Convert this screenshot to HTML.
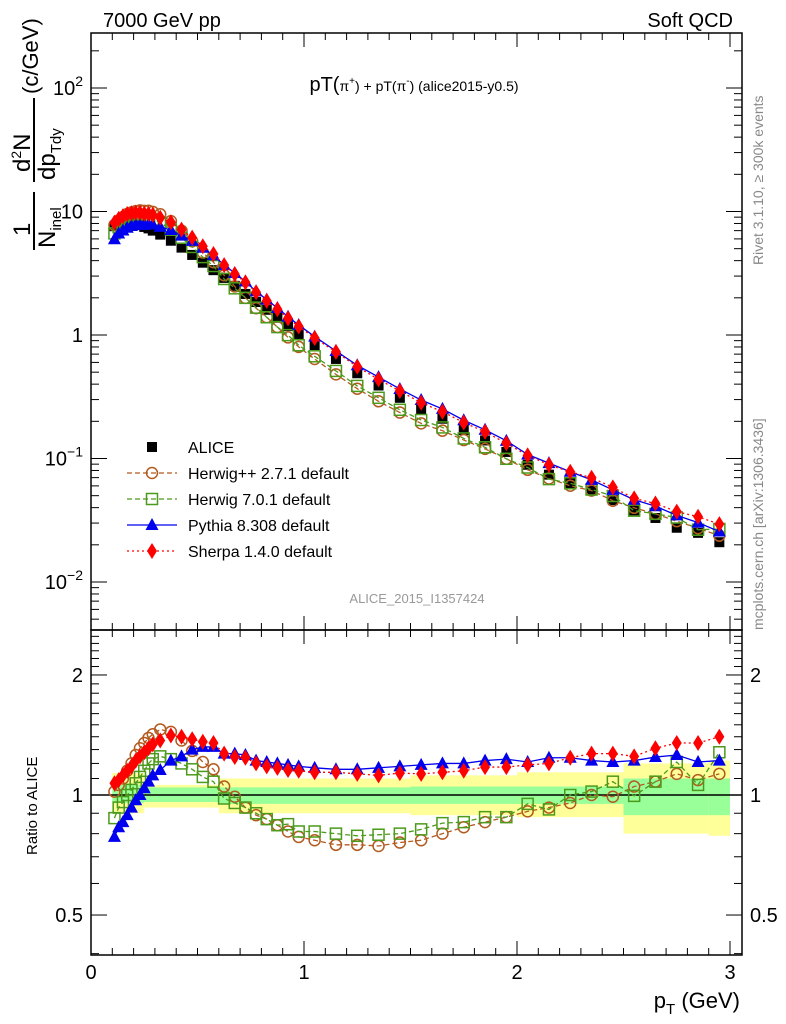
<!DOCTYPE html>
<html><head><meta charset="utf-8"><style>
html,body{margin:0;padding:0;background:#fff;}
svg{display:block;font-family:"Liberation Sans",sans-serif;}
</style></head><body>
<svg id="c" width="786" height="1024" viewBox="0 0 786 1024">
<g id="bands"></g>
<g id="axes"></g>
<g id="series"></g>
<text x="103" y="27" font-size="20">7000 GeV pp</text>
<text x="733" y="27" font-size="20" text-anchor="end">Soft QCD</text>
<text x="414" y="91" font-size="20" text-anchor="middle">pT(<tspan font-size="14">π<tspan dy="-7" font-size="10">+</tspan></tspan><tspan dy="7" font-size="14">) + pT(π<tspan dy="-7" font-size="10">-</tspan></tspan><tspan dy="7" font-size="14">) (alice2015-y0.5)</tspan></text>
<text x="417" y="603" font-size="13" fill="#999" text-anchor="middle">ALICE_2015_I1357424</text>
<text transform="translate(763,265) rotate(-90)" font-size="14" fill="#888">Rivet 3.1.10, ≥ 300k events</text>
<text transform="translate(763,630) rotate(-90)" font-size="14" fill="#888">mcplots.cern.ch [arXiv:1306.3436]</text>
<g transform="translate(44,250) rotate(-90)">
  <text x="14" y="-14" font-size="24">1</text>
  <line x1="0" y1="-10" x2="58" y2="-10" stroke="#000" stroke-width="2"/>
  <text x="2" y="11" font-size="24">N<tspan font-size="15" dy="6">inel</tspan></text>
  <text x="78" y="-14" font-size="24">d<tspan font-size="14" dy="-9">2</tspan><tspan dy="9">N</tspan></text>
  <line x1="68" y1="-10" x2="152" y2="-10" stroke="#000" stroke-width="2"/>
  <text x="70" y="11" font-size="24">dp<tspan font-size="15" dy="6">Tdy</tspan></text>
  <text x="156" y="-6" font-size="22">(c/GeV)</text>
</g>
<text transform="translate(37,855) rotate(-90)" font-size="15">Ratio to ALICE</text>
<text x="740" y="1008" font-size="22" text-anchor="end">p<tspan font-size="15" dy="6">T</tspan><tspan dy="-6"> (GeV)</tspan></text>
<g id="legend"></g>
</svg>
<script>
const pT=[0.11,0.13,0.15,0.17,0.19,0.21,0.23,0.25,0.27,0.29,0.325,0.375,0.425,0.475,0.525,0.575,0.625,0.675,0.725,0.775,0.825,0.875,0.925,0.975,1.05,1.15,1.25,1.35,1.45,1.55,1.65,1.75,1.85,1.95,2.05,2.15,2.25,2.35,2.45,2.55,2.65,2.75,2.85,2.95];
const alice=[7.6,8.0,8.2,8.3,8.2,8.0,7.8,7.5,7.3,7.0,6.5,5.8,5.1,4.45,3.85,3.35,2.9,2.5,2.15,1.85,1.6,1.38,1.18,1.02,0.83,0.64,0.49,0.39,0.31,0.25,0.21,0.17,0.14,0.113,0.089,0.074,0.063,0.055,0.046,0.038,0.033,0.0275,0.025,0.021];
const rHerwigpp=[1.02,1.06,1.10,1.15,1.20,1.26,1.31,1.35,1.39,1.42,1.46,1.44,1.37,1.29,1.21,1.16,1.05,0.99,0.93,0.89,0.87,0.84,0.81,0.785,0.77,0.75,0.75,0.745,0.76,0.77,0.80,0.83,0.855,0.88,0.91,0.93,0.955,1.0,0.99,1.05,1.08,1.13,1.09,1.13];
const rHerwig7=[0.875,0.93,0.96,1.0,1.03,1.07,1.11,1.15,1.2,1.23,1.25,1.23,1.2,1.16,1.11,1.08,0.98,0.955,0.93,0.9,0.87,0.84,0.845,0.81,0.81,0.80,0.79,0.795,0.80,0.82,0.85,0.855,0.88,0.88,0.95,0.92,1.0,1.02,1.08,0.995,1.08,1.21,1.06,1.28];
const rPythia=[0.785,0.83,0.855,0.89,0.93,0.97,1.0,1.04,1.08,1.12,1.155,1.22,1.25,1.30,1.32,1.32,1.27,1.27,1.26,1.22,1.21,1.20,1.19,1.18,1.17,1.16,1.16,1.17,1.18,1.19,1.2,1.2,1.22,1.23,1.21,1.24,1.24,1.22,1.21,1.22,1.245,1.26,1.21,1.22];
const rSherpa=[1.07,1.09,1.12,1.15,1.18,1.22,1.25,1.28,1.31,1.34,1.37,1.41,1.40,1.38,1.36,1.35,1.27,1.245,1.24,1.20,1.18,1.17,1.155,1.15,1.14,1.14,1.13,1.12,1.135,1.13,1.14,1.15,1.175,1.175,1.19,1.2,1.24,1.27,1.27,1.25,1.31,1.35,1.35,1.40];
const bandEdges=[0.1,0.25,0.6,1.0,1.5,2.0,2.5,2.9,3.0];
const yellowUp=[1.135,1.06,1.10,1.10,1.12,1.14,1.20,1.22];
const yellowDn=[0.90,0.93,0.90,0.90,0.89,0.88,0.80,0.79];
const greenUp=[1.06,1.045,1.045,1.045,1.05,1.05,1.10,1.10];
const greenDn=[0.955,0.96,0.95,0.95,0.95,0.95,0.89,0.89];
const xTicks=[0,1,2,3];
const yTicks=[[0.01,"10<tspan dy='-9' font-size='14'>−2</tspan>"],[0.1,"10<tspan dy='-9' font-size='14'>−1</tspan>"],[1,"1"],[10,"10"],[100,"10<tspan dy='-9' font-size='14'>2</tspan>"]];
const rTicks=[[0.5,"0.5"],[1,"1"],[2,"2"]];

const NS="http://www.w3.org/2000/svg";
const L=91,R=742,T=33,M=630,B=955;
const X=v=>L+v*213;
const Y=v=>335-Math.log10(v)*123.5;
const RY=v=>795-Math.log10(v)*398.7;
function mk(tag,attrs,parent){const e=document.createElementNS(NS,tag);for(const k in attrs)e.setAttribute(k,attrs[k]);parent.appendChild(e);return e;}
const bands=document.getElementById('bands'),axes=document.getElementById('axes'),ser=document.getElementById('series'),leg=document.getElementById('legend');

for(let i=0;i<bandEdges.length-1;i++){
  const x1=X(bandEdges[i]),x2=X(bandEdges[i+1]);
  const y=mk('rect',{x:x1,y:RY(yellowUp[i]),width:x2-x1,height:RY(yellowDn[i])-RY(yellowUp[i]),fill:'#ffff99'},bands);
  
  
  const g=mk('rect',{x:x1,y:RY(greenUp[i]),width:x2-x1,height:RY(greenDn[i])-RY(greenUp[i]),fill:'#99ff99'},bands);
  
  
}
mk('line',{x1:L,y1:RY(1),x2:R,y2:RY(1),stroke:'#000','stroke-width':1.5},axes);
mk('rect',{x:L,y:T,width:R-L,height:M-T,fill:'none',stroke:'#000','stroke-width':1.5},axes);
mk('rect',{x:L,y:M,width:R-L,height:B-M,fill:'none',stroke:'#000','stroke-width':1.5},axes);
for(let i=0;i<=30;i++){const v=i/10,x=X(v),maj=i%10==0;const len=maj?14:7;
  for(const [a,b] of [[T,1],[M,-1],[M,1],[B,-1]]){mk('line',{x1:x,y1:a,x2:x,y2:a+b*len,stroke:'#000'},axes);}
}
for(const v of xTicks){const t=mk('text',{x:X(v),y:B+24,'font-size':20,'text-anchor':'middle'},axes);t.textContent=v;
  
  }
for(let d=-3;d<=2;d++){for(let m=1;m<=9;m++){const v=m*Math.pow(10,d);const y=Y(v);if(y<T||y>M)continue;const len=m==1?16:8;
  mk('line',{x1:L,y1:y,x2:L+len,y2:y,stroke:'#000'},axes);mk('line',{x1:R,y1:y,x2:R-len,y2:y,stroke:'#000'},axes);}}
for(const [v,s] of yTicks){const t=mk('text',{x:L-8,y:Y(v)+7,'font-size':20,'text-anchor':'end'},axes);t.innerHTML=s;
  
  }
for(let v=0.4;v<=2.6;v+=0.1){const vv=Math.round(v*10)/10;const y=RY(vv);if(y<M||y>B)continue;const maj=[0.5,1,2].includes(vv);const len=maj?16:8;
  mk('line',{x1:L,y1:y,x2:L+len,y2:y,stroke:'#000'},axes);mk('line',{x1:R,y1:y,x2:R-len,y2:y,stroke:'#000'},axes);}
for(const [v,s] of rTicks){const t=mk('text',{x:L-8,y:RY(v)+7,'font-size':20,'text-anchor':'end'},axes);t.textContent=s;
  
  
  const t2=mk('text',{x:R+8,y:RY(v)+7,'font-size':20},axes);t2.textContent=s;
  
  }

function marker(kind,x,y,col,parent){
  if(kind=='sq')return mk('rect',{x:x-5,y:y-5,width:10,height:10,fill:'#000'},parent);
  if(kind=='circ')return mk('circle',{cx:x,cy:y,r:5.5,fill:'none',stroke:col,'stroke-width':1.5},parent);
  if(kind=='osq')return mk('rect',{x:x-5.5,y:y-5.5,width:11,height:11,fill:'none',stroke:col,'stroke-width':1.5},parent);
  if(kind=='tri')return mk('polygon',{points:`${x},${y-7} ${x-6.5},${y+5} ${x+6.5},${y+5}`,fill:col},parent);
  if(kind=='dia')return mk('polygon',{points:`${x},${y-8} ${x-5},${y} ${x},${y+8} ${x+5},${y}`,fill:col},parent);
}
const mcs=[
 {name:'herwigpp',r:rHerwigpp,col:'#b35a1f',k:'circ',dash:'5,3',lbl:'Herwig++ 2.7.1 default'},
 {name:'herwig7',r:rHerwig7,col:'#4b9a1b',k:'osq',dash:'5,3',lbl:'Herwig 7.0.1 default'},
 {name:'pythia',r:rPythia,col:'#0000ee',k:'tri',dash:'',lbl:'Pythia 8.308 default'},
 {name:'sherpa',r:rSherpa,col:'#ff0000',k:'dia',dash:'2,3',lbl:'Sherpa 1.4.0 default'}];
for(let i=0;i<pT.length;i++){const m=marker('sq',X(pT[i]),Y(alice[i]),'#000',ser);
  
  }
for(const s of mcs){
  const g=mk('g',{},ser);
  
  
  const ptsM=pT.map((p,i)=>X(p)+','+Y(alice[i]*s.r[i])).join(' ');
  const ptsR=pT.map((p,i)=>X(p)+','+RY(s.r[i])).join(' ');
  mk('polyline',{points:ptsM,fill:'none',stroke:s.col,'stroke-width':1.3,'stroke-dasharray':s.dash},g);
  mk('polyline',{points:ptsR,fill:'none',stroke:s.col,'stroke-width':1.3,'stroke-dasharray':s.dash},g);
  for(let i=0;i<pT.length;i++){
    const a=marker(s.k,X(pT[i]),Y(alice[i]*s.r[i]),s.col,g);
    
    
    const b=marker(s.k,X(pT[i]),RY(s.r[i]),s.col,g);
    
    
  }
}
const ly=[447,473,499,525,551];
{const m=marker('sq',152,ly[0],'#000',leg);
 const t=mk('text',{x:188,y:ly[0]+6,'font-size':16},leg);t.textContent='ALICE';
 
 }
mcs.forEach((s,i)=>{const y=ly[i+1];
 mk('line',{x1:127,y1:y,x2:177,y2:y,stroke:s.col,'stroke-width':1.3,'stroke-dasharray':s.dash},leg);
 marker(s.k,152,y,s.col,leg);
 const t=mk('text',{x:188,y:y+6,'font-size':16},leg);t.textContent=s.lbl;
 
 });
</script>
</body></html>
